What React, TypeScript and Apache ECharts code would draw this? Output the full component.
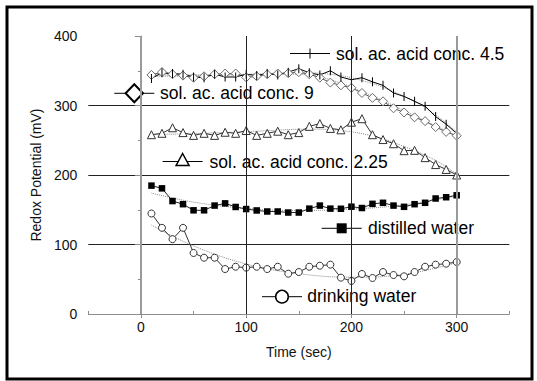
import React, { useEffect, useRef } from 'react';
import * as echarts from 'echarts';

// Sampling times (s)
const timeSec = [10, 20, 30, 40, 50, 60, 70, 80, 90, 100, 110, 120, 130, 140, 150, 160, 170, 180, 190, 200, 210, 220, 230, 240, 250, 260, 270, 280, 290, 300];

// Redox potential (mV) per solution
const acid45 = [339, 347, 346, 345, 341, 340, 345, 341, 341, 345, 343, 346, 344, 348, 353, 347, 344, 350, 341, 337, 340, 334, 329, 318, 313, 306, 299, 284, 273, 260];
const acid9 = [344, 348, 345, 343, 340, 342, 345, 346, 346, 340.5, 342, 345, 346, 346.5, 348, 345, 340, 333, 329, 325.5, 318, 311, 306, 296, 290, 283, 277.5, 269, 262, 256.5];
const acid225 = [258, 260, 268, 261, 257, 260, 257, 261.5, 260, 264, 257, 260, 263, 258, 261, 270, 274, 267, 265, 276, 281, 258, 251, 245, 235, 235.5, 225, 215, 208, 200];
const distilled = [184.7, 180.8, 162.5, 158, 149.2, 149.2, 156, 159.2, 154, 151, 149, 147.5, 147.5, 146, 146, 151.6, 156, 151.6, 151.4, 154.4, 152.5, 158.5, 160, 156, 154.2, 158, 160, 166.2, 168, 170.8];
const drinking = [144.6, 124, 107.7, 124, 87.8, 81, 81, 64.7, 68, 66.7, 68, 64.7, 68, 58, 60.4, 68, 69.5, 71, 52.3, 47.5, 57.6, 51.8, 60.4, 56.1, 54.2, 60.4, 68, 71, 72.4, 74.8];

// Fitted trend curves (dotted)
const acid45TrendT = [10, 60, 110, 150, 180, 210, 240, 270, 300];
const acid45Trend = [342, 343, 345, 347, 345, 336, 320, 297, 262];
const acid9TrendT = [10, 60, 110, 150, 180, 210, 240, 270, 300];
const acid9Trend = [344, 344, 345, 345, 337, 320, 300, 278, 256];
const acid225TrendT = [10, 60, 110, 160, 190, 220, 250, 280, 300];
const acid225Trend = [258, 260, 263, 266, 264, 256, 241, 221, 201];
const distilledTrendT = [10, 50, 100, 150, 200, 250, 300];
const distilledTrend = [174, 161, 152, 149, 151, 157, 170];
const drinkingTrendT = [10, 50, 100, 150, 200, 250, 300];
const drinkingTrend = [128, 98, 72, 58, 53, 57, 74];

// Axis ticks
const xLabelValues = [0, 100, 200, 300];
const xMinorValues = [-50, 50, 150, 250, 350];

const legendNames = [
  'sol. ac. acid conc. 4.5',
  'sol. ac. acid conc. 9',
  'sol. ac. acid conc. 2.25',
  'distilled water',
  'drinking water',
];

const FONT = '"Liberation Sans", Arial, Helvetica, sans-serif';

type Marker = 'tick' | 'diamond' | 'triangle' | 'square' | 'circle';
const legendLayout: { lineX: number; y: number; textX: number; textY: number; marker: Marker; half: number }[] = [
  { lineX: 290, y: 53.5, textX: 336, textY: 53.8, marker: 'tick', half: 6 },
  { lineX: 114.3, y: 93.3, textX: 160, textY: 93.3, marker: 'diamond', half: 10 },
  { lineX: 162.6, y: 161.5, textX: 209.6, textY: 161.7, marker: 'triangle', half: 8 },
  { lineX: 321.7, y: 228.3, textX: 368, textY: 228.3, marker: 'square', half: 6 },
  { lineX: 262, y: 296.7, textX: 307.3, textY: 295.7, marker: 'circle', half: 8 },
];

function markerGraphic(kind: Marker, cx: number, cy: number): any {
  switch (kind) {
    case 'tick':
      return { type: 'rect', shape: { x: cx - 0.5, y: cy - 5, width: 1, height: 10 }, style: { fill: '#000' } };
    case 'diamond':
      return {
        type: 'polygon',
        shape: { points: [[cx, cy - 9], [cx + 8.7, cy], [cx, cy + 9], [cx - 8.7, cy]] },
        style: { fill: '#fff', stroke: '#000', lineWidth: 2 },
      };
    case 'triangle':
      return {
        type: 'polygon',
        shape: { points: [[cx, cy - 8], [cx + 6.5, cy + 4], [cx - 6.5, cy + 4]] },
        style: { fill: '#fff', stroke: '#000', lineWidth: 1.5 },
      };
    case 'square':
      return { type: 'rect', shape: { x: cx - 5, y: cy - 5, width: 10, height: 10 }, style: { fill: '#000' } };
    default:
      return { type: 'circle', shape: { cx, cy, r: 6.3 }, style: { fill: '#fff', stroke: '#000', lineWidth: 1.5 } };
  }
}

function legendGroup(name: string, i: number): any {
  const lay = legendLayout[i];
  const cx = lay.lineX + 20;
  return {
    type: 'group',
    z: 50,
    children: [
      {
        type: 'rect',
        shape: { x: lay.lineX - 1, y: lay.y - lay.half - 1, width: 42, height: 2 * lay.half + 2 },
        style: { fill: '#fff' },
      },
      {
        type: 'line',
        shape: { x1: lay.lineX, y1: lay.y, x2: lay.lineX + 40, y2: lay.y },
        style: { stroke: '#000', lineWidth: 1 },
      },
      markerGraphic(lay.marker, cx, lay.y),
      {
        type: 'text',
        x: lay.textX - 3,
        y: lay.textY,
        style: {
          text: name,
          fontSize: 17.5,
          fontFamily: FONT,
          fill: '#000',
          backgroundColor: '#fff',
          padding: [1, 3, 1, 3],
          align: 'left',
          verticalAlign: 'middle',
          textAlign: 'left',
          textVerticalAlign: 'middle',
        },
      },
    ],
  };
}

const pairs = (xs: number[], ys: number[]) => xs.map((x, i) => [x, ys[i]]);

function trendSeries(xs: number[], ys: number[], extra: any = {}): any {
  return {
    type: 'line',
    data: pairs(xs, ys),
    smooth: 0.4,
    symbol: 'none',
    silent: true,
    lineStyle: { type: 'dotted', color: '#8a8a8a', width: 1 },
    z: 2,
    ...extra,
  };
}

function dataSeries(name: string, ys: number[], symbol: string, symbolSize: any, itemStyle: any, lineColor: string): any {
  return {
    name,
    type: 'line',
    data: pairs(timeSec, ys),
    symbol,
    symbolSize,
    itemStyle,
    lineStyle: { color: lineColor, width: 1 },
    silent: true,
    z: 3,
  };
}

export default function App() {
  const ref = useRef<HTMLDivElement>(null);

  useEffect(() => {
    if (!ref.current) return;
    const chart = echarts.init(ref.current, null, { renderer: 'svg' });

    const verticalGrid = {
      symbol: ['none', 'none'],
      silent: true,
      label: { show: false },
      emphasis: { disabled: true },
      data: [
        { xAxis: 0, lineStyle: { color: '#9a9a9a', width: 2, type: 'solid' } },
        { xAxis: 100, lineStyle: { color: '#222', width: 1, type: 'solid' } },
        { xAxis: 200, lineStyle: { color: '#222', width: 1, type: 'solid' } },
        { xAxis: 300, lineStyle: { color: '#9a9a9a', width: 2, type: 'solid' } },
      ],
    };

    const option: any = {
      animation: false,
      backgroundColor: '#fff',
      grid: { left: 88.3, right: 27.7, top: 36, bottom: 67, containLabel: false, outerBoundsMode: 'none' },
      xAxis: [
        {
          type: 'value',
          min: -50,
          max: 350,
          position: 'bottom',
          axisLine: { show: true, lineStyle: { color: '#8c8c8c', width: 1 } },
          axisTick: { show: true, customValues: xLabelValues, length: 4, lineStyle: { color: '#8c8c8c', width: 1 } },
          axisLabel: { customValues: xLabelValues, fontSize: 14, fontFamily: FONT, color: '#111', margin: 6 },
          splitLine: { show: false },
          name: 'Time (sec)',
          nameLocation: 'middle',
          nameGap: 31,
          nameTextStyle: { fontSize: 14, fontFamily: FONT, color: '#111' },
        },
        {
          type: 'value',
          min: -50,
          max: 350,
          position: 'bottom',
          axisLine: { show: false },
          axisTick: { show: true, inside: true, customValues: xMinorValues, length: 3, lineStyle: { color: '#8c8c8c', width: 1 } },
          axisLabel: { show: false },
          splitLine: { show: false },
        },
      ],
      yAxis: {
        type: 'value',
        min: 0,
        max: 400,
        interval: 100,
        axisLine: { show: true, lineStyle: { color: '#8c8c8c', width: 1 } },
        axisTick: { show: true, length: 6, lineStyle: { color: '#8c8c8c', width: 1 } },
        minorTick: { show: true, splitNumber: 2, length: 3, lineStyle: { color: '#8c8c8c', width: 1 } },
        axisLabel: { fontSize: 14, fontFamily: FONT, color: '#111', margin: 11 },
        splitLine: { show: true, showMinLine: false, showMaxLine: false, lineStyle: { color: '#222', width: 1 } },
        name: 'Redox Potential (mV)',
        nameLocation: 'middle',
        nameGap: 44,
        nameTextStyle: { fontSize: 14, fontFamily: FONT, color: '#111' },
      },
      series: [
        trendSeries(acid45TrendT, acid45Trend, { markLine: verticalGrid }),
        trendSeries(acid9TrendT, acid9Trend),
        trendSeries(acid225TrendT, acid225Trend),
        trendSeries(distilledTrendT, distilledTrend),
        trendSeries(drinkingTrendT, drinkingTrend),
        dataSeries(legendNames[1], acid9, 'diamond', [9, 9], { color: '#fff', borderColor: '#6a6a6a', borderWidth: 1 }, '#555'),
        dataSeries(legendNames[0], acid45, 'path://M0,0h1v10h-1z', [1, 9], { color: '#000' }, '#000'),
        dataSeries(legendNames[2], acid225, 'triangle', 8, { color: '#fff', borderColor: '#333', borderWidth: 1 }, '#333'),
        dataSeries(legendNames[3], distilled, 'rect', 6.5, { color: '#000' }, '#222'),
        dataSeries(legendNames[4], drinking, 'circle', 7, { color: '#fff', borderColor: '#333', borderWidth: 1 }, '#333'),
      ],
      graphic: [
        ...legendNames.map((n, i) => legendGroup(n, i)),
        {
          type: 'rect',
          z: 60,
          shape: { x: 7, y: 7, width: 525, height: 372 },
          style: { fill: 'none', stroke: '#000', lineWidth: 3 },
        },
      ],
    };

    chart.setOption(option);
    return () => chart.dispose();
  }, []);

  return (
    <div
      ref={ref}
      style={{ position: 'fixed', left: 0, top: 0, width: 537, height: 381, background: '#fff' }}
    />
  );
}
